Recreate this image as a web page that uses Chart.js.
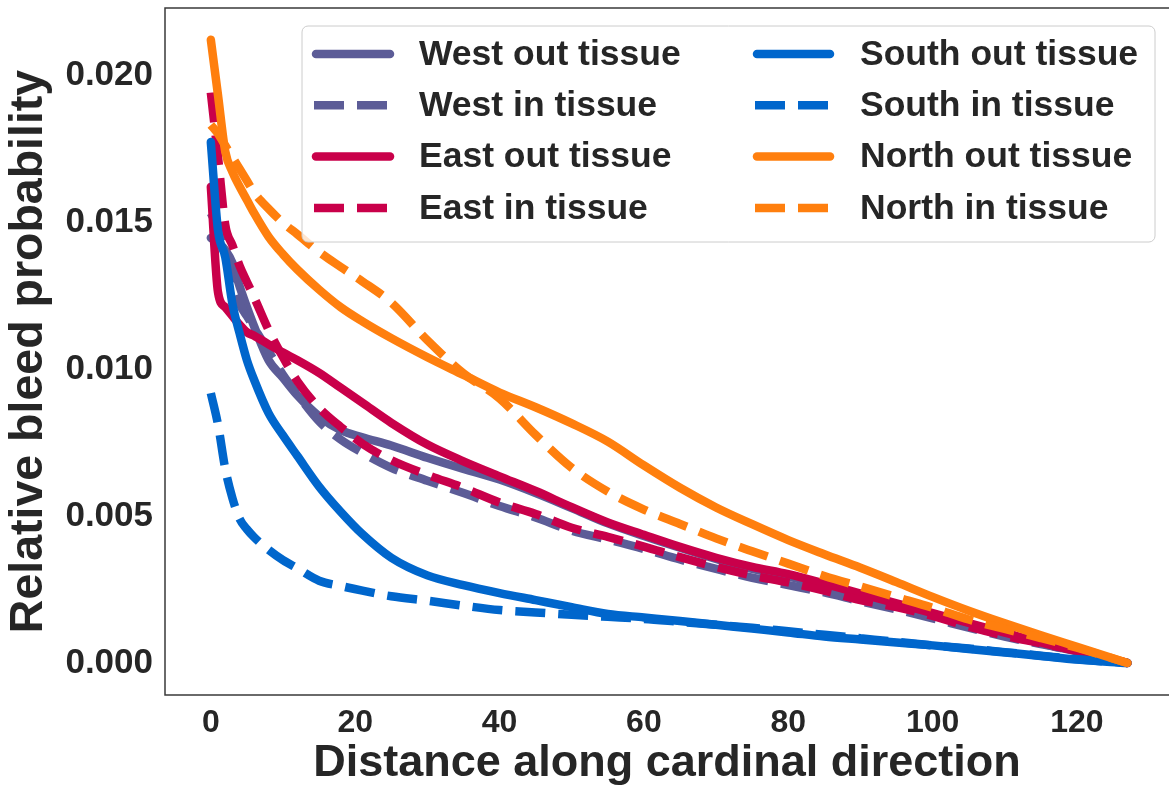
<!DOCTYPE html>
<html>
<head>
<meta charset="utf-8">
<script src="https://cdn.jsdelivr.net/npm/chart.js@4.4.1/dist/chart.umd.min.js"></script>
<style>
  html, body { margin: 0; padding: 0; background: #fff; }
  #wrap { width: 1169px; height: 792px; }
</style>
</head>
<body>
<div id="wrap"><canvas id="grafico" width="1169" height="792"></canvas></div>
<script>
// distancia a lo largo de la direccion cardinal
const distancia = [0, 1, 2, 3, 4, 5, 6, 8, 10, 12, 15, 18, 21, 25, 30, 35, 40, 45, 50, 55, 60, 65, 70, 75, 80, 85, 90, 95, 100, 105, 110, 115, 120, 127];

const westOut  = [0.01446, 0.0143, 0.01405, 0.0136, 0.0128, 0.0121, 0.01145, 0.0103, 0.0097, 0.0091, 0.00839, 0.00792, 0.00768, 0.0074, 0.00698, 0.0066, 0.00624, 0.00578, 0.00527, 0.00475, 0.00432, 0.00392, 0.00354, 0.0032, 0.00295, 0.00263, 0.0023, 0.00197, 0.00165, 0.00132, 0.001, 0.00068, 0.00039, 0];
const westIn   = [0.0153, 0.0148, 0.014, 0.0129, 0.0122, 0.0118, 0.0114, 0.0106, 0.0098, 0.00913, 0.00822, 0.0076, 0.00715, 0.00664, 0.0062, 0.00578, 0.00534, 0.00495, 0.0045, 0.0042, 0.00388, 0.00352, 0.0032, 0.0029, 0.00265, 0.0024, 0.0021, 0.00182, 0.00152, 0.0012, 0.0009, 0.00064, 0.0004, 0];
const eastOut  = [0.0162, 0.0126, 0.0121, 0.0118, 0.0115, 0.01125, 0.01113, 0.01084, 0.01056, 0.0103, 0.00987, 0.00936, 0.00885, 0.00817, 0.00743, 0.00686, 0.00635, 0.00585, 0.0053, 0.00478, 0.00436, 0.00395, 0.00358, 0.00327, 0.00302, 0.0027, 0.00236, 0.00203, 0.0017, 0.00136, 0.00103, 0.0007, 0.0004, 0];
const eastIn   = [0.0194, 0.0172, 0.0149, 0.0142, 0.0135, 0.01296, 0.01244, 0.01133, 0.0104, 0.00958, 0.00868, 0.00803, 0.00746, 0.0069, 0.0064, 0.00596, 0.00546, 0.00507, 0.0046, 0.00429, 0.00396, 0.0036, 0.00327, 0.00298, 0.00274, 0.00246, 0.00214, 0.0019, 0.0016, 0.00124, 0.00093, 0.00067, 0.00042, 0];
const southOut = [0.01772, 0.0147, 0.0138, 0.0122, 0.0112, 0.0103, 0.00963, 0.0085, 0.00774, 0.00704, 0.006, 0.00514, 0.00438, 0.00358, 0.00298, 0.00265, 0.00238, 0.00214, 0.0019, 0.00167, 0.00155, 0.00143, 0.0013, 0.00117, 0.00104, 0.0009, 0.0008, 0.0007, 0.0006, 0.00048, 0.00036, 0.00024, 0.00012, 0];
const southIn  = [0.00918, 0.0081, 0.0066, 0.0056, 0.0049, 0.00455, 0.00428, 0.00385, 0.0035, 0.00322, 0.0028, 0.00262, 0.00246, 0.00227, 0.00212, 0.00195, 0.0018, 0.00172, 0.00164, 0.00157, 0.0015, 0.0014, 0.0013, 0.0012, 0.00108, 0.00096, 0.00084, 0.00072, 0.0006, 0.00049, 0.00037, 0.00025, 0.00013, 0];
const northOut = [0.0212, 0.0193, 0.0174, 0.0167, 0.0162, 0.01575, 0.0153, 0.0145, 0.0139, 0.01338, 0.0127, 0.0121, 0.01162, 0.01105, 0.0104, 0.0098, 0.0092, 0.0087, 0.00815, 0.00753, 0.00672, 0.00596, 0.00529, 0.00472, 0.00418, 0.0037, 0.00324, 0.00275, 0.00225, 0.00178, 0.00135, 0.00094, 0.00055, 0];
const northIn  = [0.0183, 0.018, 0.0176, 0.0172, 0.0168, 0.0164, 0.016, 0.01545, 0.01497, 0.01458, 0.01398, 0.01347, 0.01298, 0.01226, 0.01098, 0.00985, 0.009, 0.00776, 0.00664, 0.00583, 0.00522, 0.00473, 0.00424, 0.0038, 0.00338, 0.00296, 0.0026, 0.00224, 0.00188, 0.00148, 0.00116, 0.00085, 0.00052, 0];

const etiquetasSeries = ['West out tissue', 'West in tissue', 'East out tissue', 'East in tissue',
                         'South out tissue', 'South in tissue', 'North out tissue', 'North in tissue'];
const valoresSeries = [westOut, westIn, eastOut, eastIn, southOut, southIn, northOut, northIn];
const coloresSeries = ['#5c5c97', '#5c5c97', '#c9004a', '#c9004a', '#0066cc', '#0066cc', '#ff7f0e', '#ff7f0e'];
const discontinua   = [false, true, false, true, false, true, false, true];

const ticksX = [0, 20, 40, 60, 80, 100, 120];
const ticksY = [0, 0.005, 0.01, 0.015, 0.02];

const fuente = "'Liberation Sans', Arial, sans-serif";
const colorTexto = '#262626';

const datasets = valoresSeries.map((serie, i) => ({
    label: etiquetasSeries[i],
    data: distancia.map((d, j) => ({ x: d, y: serie[j] })),
    borderColor: coloresSeries[i],
    backgroundColor: coloresSeries[i],
    borderWidth: 8.5,
    borderDash: discontinua[i] ? [30, 13] : [],
    borderCapStyle: discontinua[i] ? 'butt' : 'round',
    borderJoinStyle: 'round',
    pointRadius: 0,
    cubicInterpolationMode: 'monotone',
    fill: false,
    order: valoresSeries.length - i
}));

// marco del grafico (estilo seaborn white)
const marco = {
    id: 'marco',
    afterDatasetsDraw(chart) {
        const { ctx, chartArea: a } = chart;
        ctx.save();
        ctx.strokeStyle = '#3a3a3a';
        ctx.lineWidth = 1.5;
        ctx.beginPath();
        ctx.moveTo(a.right + 2, a.top);
        ctx.lineTo(a.left, a.top);
        ctx.lineTo(a.left, a.bottom);
        ctx.lineTo(a.right + 2, a.bottom);
        ctx.stroke();
        ctx.restore();
    }
};

// leyenda en dos columnas, ordenada por columnas
const leyenda = {
    id: 'leyenda',
    afterDraw(chart) {
        const { ctx } = chart;
        const caja = { x: 302, y: 26, w: 853, h: 216, r: 6 };
        ctx.save();
        ctx.beginPath();
        ctx.roundRect(caja.x, caja.y, caja.w, caja.h, caja.r);
        ctx.fillStyle = 'rgba(255,255,255,0.8)';
        ctx.fill();
        ctx.strokeStyle = '#cccccc';
        ctx.lineWidth = 1;
        ctx.stroke();

        const columnas = [{ l0: 316, l1: 390, t: 419 }, { l0: 757, l1: 830, t: 860 }];
        chart.data.datasets.forEach((ds, i) => {
            const col = columnas[Math.floor(i / 4)];
            const y = 54 + (i % 4) * 51.3;
            ctx.beginPath();
            ctx.strokeStyle = ds.borderColor;
            ctx.lineWidth = ds.borderWidth;
            ctx.lineCap = ds.borderCapStyle;
            ctx.setLineDash(ds.borderDash);
            if (ds.borderDash.length) {
                ctx.moveTo(col.l0 - 2, y);
                ctx.lineTo(col.l1 + 4, y);
            } else {
                ctx.moveTo(col.l0, y);
                ctx.lineTo(col.l1, y);
            }
            ctx.stroke();
            ctx.setLineDash([]);
            ctx.fillStyle = colorTexto;
            ctx.font = 'bold 35.5px ' + fuente;
            ctx.textBaseline = 'middle';
            ctx.textAlign = 'left';
            ctx.fillText(ds.label, col.t, y + 1);
        });
        ctx.restore();
    }
};

new Chart(document.getElementById('grafico'), {
    type: 'line',
    data: { datasets },
    options: {
        responsive: false,
        animation: false,
        layout: { padding: { top: 8, right: 0, left: 0, bottom: 0 } },
        plugins: {
            legend: { display: false },
            tooltip: { enabled: false }
        },
        scales: {
            x: {
                type: 'linear',
                min: -6.35,
                max: 132.75,
                afterFit: (s) => { s.height = 97; s.paddingLeft = 0; s.paddingRight = 0; },
                afterBuildTicks: (s) => { s.ticks = ticksX.map(v => ({ value: v })); },
                grid: { display: false, drawTicks: false },
                border: { display: false },
                ticks: {
                    padding: 9,
                    color: colorTexto,
                    font: { family: fuente, size: 32, weight: 'bold' },
                    callback: (v) => String(v)
                },
                title: {
                    display: true,
                    text: 'Distance along cardinal direction',
                    color: colorTexto,
                    font: { family: fuente, size: 45, weight: 'bold', lineHeight: 1.2 },
                    padding: { top: 0, bottom: 1 }
                }
            },
            y: {
                type: 'linear',
                min: -0.001088,
                max: 0.022279,
                afterFit: (s) => { s.width = 165; s.paddingTop = 0; s.paddingBottom = 0; },
                afterBuildTicks: (s) => { s.ticks = ticksY.map(v => ({ value: v })); },
                grid: { display: false, drawTicks: false },
                border: { display: false },
                ticks: {
                    padding: 12,
                    color: colorTexto,
                    font: { family: fuente, size: 35, weight: 'bold' },
                    callback: (v) => v.toFixed(3)
                },
                title: {
                    display: true,
                    text: 'Relative bleed probability',
                    color: colorTexto,
                    font: { family: fuente, size: 46.5, weight: 'bold', lineHeight: 1.2 },
                    padding: { top: 1, bottom: 0 }
                }
            }
        }
    },
    plugins: [marco, leyenda]
});
</script>
</body>
</html>
